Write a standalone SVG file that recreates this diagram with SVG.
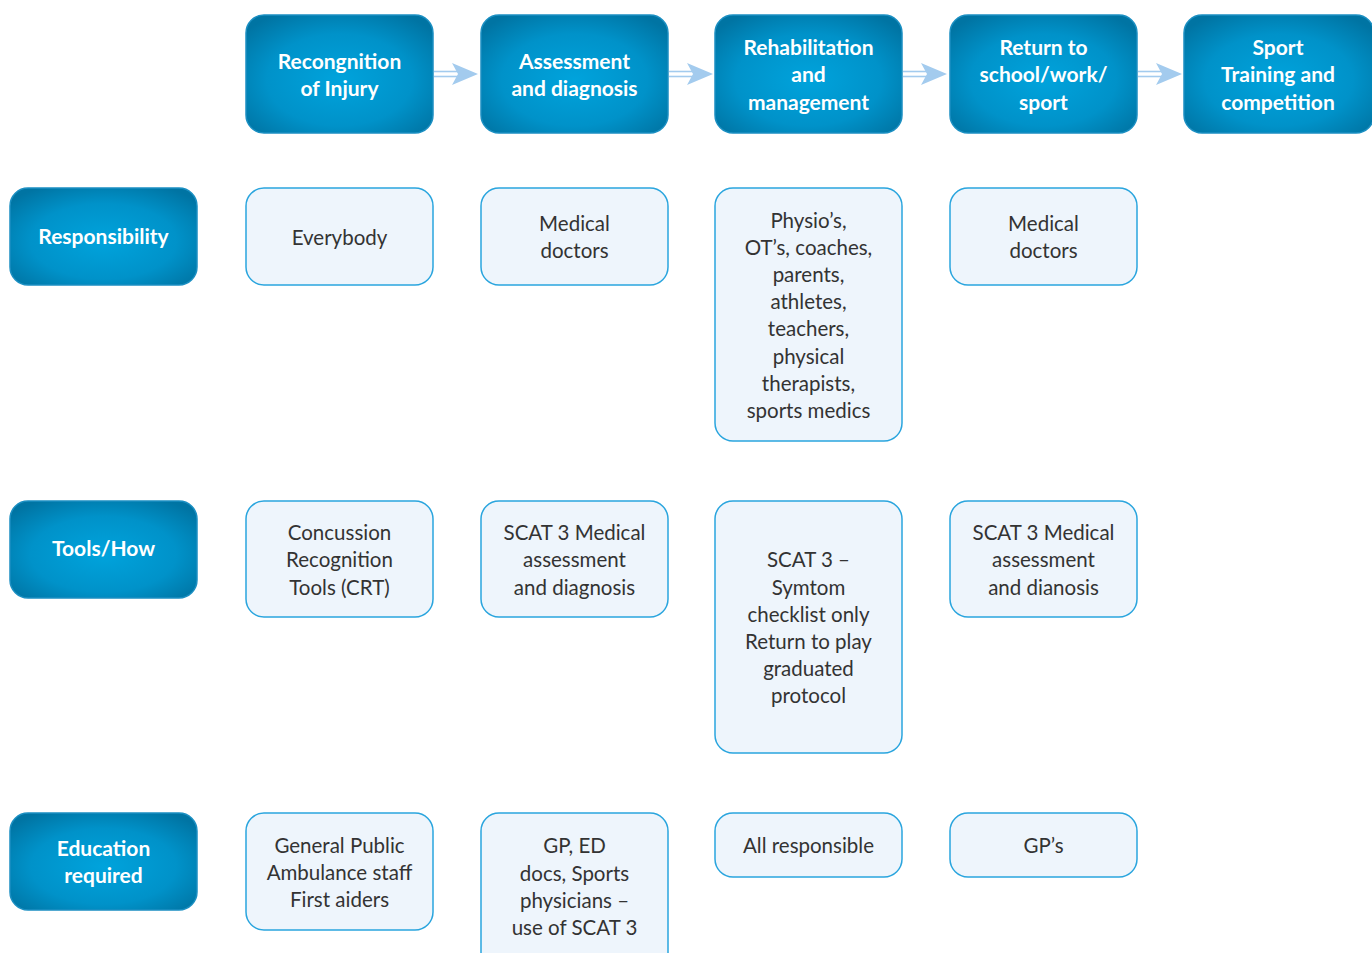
<svg xmlns="http://www.w3.org/2000/svg" width="1372" height="953" viewBox="0 0 1372 953">
<defs>
<radialGradient id="bg" cx="50%" cy="55%" r="65%">
<stop offset="0" stop-color="#00a3dc"/>
<stop offset="0.6" stop-color="#0092c9"/>
<stop offset="1" stop-color="#0074a3"/>
</radialGradient>
</defs>
<style>
.hb{fill:url(#bg);stroke:#1b8fc2;stroke-width:1.5}
.lb{fill:#eef5fc;stroke:#2aa5de;stroke-width:1.5}
.ht{font-family:Lato,"Noto Sans",sans-serif;font-weight:700;font-size:21px;fill:#ffffff;text-anchor:middle}
.bt{font-family:Lato,"Noto Sans",sans-serif;font-weight:400;font-size:20.5px;fill:#333333;text-anchor:middle}
.sh{fill:none;stroke:#a3cbee;stroke-width:1.6}
.hd{fill:#a3cbee}
</style>
<rect width="1372" height="953" fill="#ffffff"/>
<g id="connectors">
<g><line class="sh" x1="434" y1="71.5" x2="458" y2="71.5"/><line class="sh" x1="434" y1="76.5" x2="458" y2="76.5"/><path class="hd" d="M452,63 L478,74 L452,85 L458,74 Z"/></g>
<g><line class="sh" x1="669" y1="71.5" x2="693" y2="71.5"/><line class="sh" x1="669" y1="76.5" x2="693" y2="76.5"/><path class="hd" d="M687,63 L713,74 L687,85 L693,74 Z"/></g>
<g><line class="sh" x1="903" y1="71.5" x2="927" y2="71.5"/><line class="sh" x1="903" y1="76.5" x2="927" y2="76.5"/><path class="hd" d="M921,63 L947,74 L921,85 L927,74 Z"/></g>
<g><line class="sh" x1="1138" y1="71.5" x2="1162" y2="71.5"/><line class="sh" x1="1138" y1="76.5" x2="1162" y2="76.5"/><path class="hd" d="M1156,63 L1182,74 L1156,85 L1162,74 Z"/></g>
</g>
<g id="h1"><rect class="hb" x="246" y="15" width="187" height="118" rx="18"/><text class="ht" x="339.5" y="69">Recongnition</text><text class="ht" x="339.5" y="96">of Injury</text></g>
<g id="h2"><rect class="hb" x="481" y="15" width="187" height="118" rx="18"/><text class="ht" x="574.5" y="69">Assessment</text><text class="ht" x="574.5" y="96">and diagnosis</text></g>
<g id="h3"><rect class="hb" x="715" y="15" width="187" height="118" rx="18"/><text class="ht" x="808.5" y="55">Rehabilitation</text><text class="ht" x="808.5" y="82">and</text><text class="ht" x="808.5" y="110">management</text></g>
<g id="h4"><rect class="hb" x="950" y="15" width="187" height="118" rx="18"/><text class="ht" x="1043.5" y="55">Return to</text><text class="ht" x="1043.5" y="82">school/work/</text><text class="ht" x="1043.5" y="110">sport</text></g>
<g id="h5"><rect class="hb" x="1184" y="15" width="190" height="118" rx="18"/><text class="ht" x="1278" y="55">Sport</text><text class="ht" x="1278" y="82">Training and</text><text class="ht" x="1278" y="110">competition</text></g>

<g id="r1"><rect class="hb" x="10" y="188" width="187" height="97" rx="18"/><text class="ht" x="103.5" y="244">Responsibility</text></g>
<g id="r2"><rect class="hb" x="10" y="501" width="187" height="97" rx="18"/><text class="ht" x="103.5" y="556">Tools/How</text></g>
<g id="r3"><rect class="hb" x="10" y="813" width="187" height="97" rx="18"/><text class="ht" x="103.5" y="856">Education</text><text class="ht" x="103.5" y="883">required</text></g>

<g id="c11"><rect class="lb" x="246" y="188" width="187" height="97" rx="18"/><text class="bt" x="339.5" y="245">Everybody</text></g>
<g id="c12"><rect class="lb" x="481" y="188" width="187" height="97" rx="18"/><text class="bt" x="574.5" y="231">Medical</text><text class="bt" x="574.5" y="258">doctors</text></g>
<g id="c13"><rect class="lb" x="715" y="188" width="187" height="253" rx="18"/><text class="bt" x="808.5" y="228">Physio’s,</text><text class="bt" x="808.5" y="255">OT’s, coaches,</text><text class="bt" x="808.5" y="282">parents,</text><text class="bt" x="808.5" y="309">athletes,</text><text class="bt" x="808.5" y="336">teachers,</text><text class="bt" x="808.5" y="364">physical</text><text class="bt" x="808.5" y="391">therapists,</text><text class="bt" x="808.5" y="418">sports medics</text></g>
<g id="c14"><rect class="lb" x="950" y="188" width="187" height="97" rx="18"/><text class="bt" x="1043.5" y="231">Medical</text><text class="bt" x="1043.5" y="258">doctors</text></g>

<g id="c21"><rect class="lb" x="246" y="501" width="187" height="116" rx="18"/><text class="bt" x="339.5" y="540">Concussion</text><text class="bt" x="339.5" y="567">Recognition</text><text class="bt" x="339.5" y="595">Tools (CRT)</text></g>
<g id="c22"><rect class="lb" x="481" y="501" width="187" height="116" rx="18"/><text class="bt" x="574.5" y="540">SCAT 3 Medical</text><text class="bt" x="574.5" y="567">assessment</text><text class="bt" x="574.5" y="595">and diagnosis</text></g>
<g id="c23"><rect class="lb" x="715" y="501" width="187" height="252" rx="18"/><text class="bt" x="808.5" y="567">SCAT 3  –</text><text class="bt" x="808.5" y="595">Symtom</text><text class="bt" x="808.5" y="622">checklist only</text><text class="bt" x="808.5" y="649">Return to play</text><text class="bt" x="808.5" y="676">graduated</text><text class="bt" x="808.5" y="703">protocol</text></g>
<g id="c24"><rect class="lb" x="950" y="501" width="187" height="116" rx="18"/><text class="bt" x="1043.5" y="540">SCAT 3 Medical</text><text class="bt" x="1043.5" y="567">assessment</text><text class="bt" x="1043.5" y="595">and dianosis</text></g>

<g id="c31"><rect class="lb" x="246" y="813" width="187" height="117" rx="18"/><text class="bt" x="339.5" y="853">General Public</text><text class="bt" x="339.5" y="880">Ambulance staff</text><text class="bt" x="339.5" y="907">First aiders</text></g>
<g id="c32"><rect class="lb" x="481" y="813" width="187" height="160" rx="18"/><text class="bt" x="574.5" y="853">GP, ED</text><text class="bt" x="574.5" y="881">docs, Sports</text><text class="bt" x="574.5" y="908">physicians –</text><text class="bt" x="574.5" y="935">use of SCAT 3</text></g>
<g id="c33"><rect class="lb" x="715" y="813" width="187" height="64" rx="18"/><text class="bt" x="808.5" y="853">All responsible</text></g>
<g id="c34"><rect class="lb" x="950" y="813" width="187" height="64" rx="18"/><text class="bt" x="1043.5" y="853">GP’s</text></g>
</svg>
